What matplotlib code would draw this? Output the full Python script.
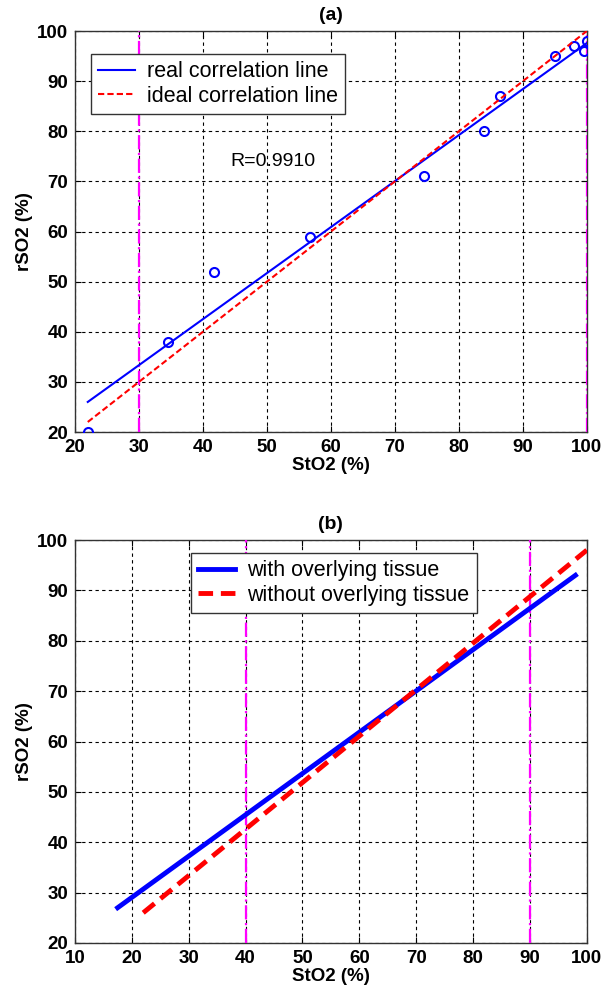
import matplotlib
matplotlib.use('Agg')
import matplotlib.pyplot as plt

plt.rcParams['font.family'] = ['Liberation Sans', 'DejaVu Sans']

# panel (a) measured points
sto2_a = [22, 34.5, 41.7, 56.8, 74.5, 84, 86.5, 95, 98, 99.6, 100]
rso2_a = [20, 38, 52, 59, 71, 80, 87, 95, 97, 96, 98]
real_x = [22, 100]
real_y = [26, 97.6]
ideal_x = [22, 100]
ideal_y = [22, 100]
limits_a = [30, 100]

# panel (b) regression lines
with_x = [17.5, 98]
with_y = [27, 93]
without_x = [22, 100]
without_y = [26, 98]
limits_b = [40, 90]

ticks_a = [20, 30, 40, 50, 60, 70, 80, 90, 100]
ticks_bx = [10, 20, 30, 40, 50, 60, 70, 80, 90, 100]
ticks_y = [20, 30, 40, 50, 60, 70, 80, 90, 100]


def style_axes(ax, xticks, title):
    ax.set_xticks(xticks)
    ax.set_yticks(ticks_y)
    ax.set_xlim(xticks[0], xticks[-1])
    ax.set_ylim(20, 100)
    ax.grid(True, color='black', linestyle=(0, (3, 3)), linewidth=0.8)
    ax.tick_params(direction='in', length=4, width=0.8, top=True, right=True)
    ax.tick_params(axis='x', pad=5)
    ax.tick_params(axis='y', pad=5)
    for lab in ax.get_xticklabels() + ax.get_yticklabels():
        lab.set_fontsize(13.5)
        lab.set_fontweight('bold')
    for sp in ax.spines.values():
        sp.set_linewidth(1.0)
        sp.set_color('#333333')
    ax.set_xlabel('StO2 (%)', fontsize=13.5, fontweight='bold', labelpad=1)
    ax.set_ylabel('rSO2 (%)', fontsize=13.5, fontweight='bold', labelpad=3)
    ax.set_title(title, fontsize=14, fontweight='bold', pad=8)


fig = plt.figure(figsize=(6.13, 9.92), dpi=100)
ax1 = fig.add_axes([0.1223, 0.5645, 0.835, 0.4042])
ax2 = fig.add_axes([0.1223, 0.0494, 0.835, 0.4062])

legend_opts = dict(fontsize=15.5, frameon=True, fancybox=False, edgecolor='#333333',
                   framealpha=1, handlelength=1.7, handletextpad=0.55, borderpad=0.35,
                   labelspacing=0.15, borderaxespad=0)

# (a)
for xv in limits_a:
    ax1.axvline(xv, color='magenta', linestyle='-.', linewidth=1.6, zorder=3)
ax1.plot(sto2_a, rso2_a, 'o', mfc='none', mec='blue', ms=6.5, mew=1.5, zorder=4)
ax1.plot(real_x, real_y, color='blue', linewidth=1.5, label='real correlation line', zorder=5)
ax1.plot(ideal_x, ideal_y, color='red', linestyle='--', linewidth=1.5,
         dashes=(3, 1.5), label='ideal correlation line', zorder=5)
ax1.text(44.3, 74, 'R=0.9910', fontsize=14, ha='left', va='center')
style_axes(ax1, ticks_a, '(a)')
leg1 = ax1.legend(loc='upper left', bbox_to_anchor=(0.031, 0.943), **legend_opts)
leg1.get_frame().set_linewidth(1.0)

# (b)
for xv in limits_b:
    ax2.axvline(xv, color='magenta', linestyle='-.', linewidth=1.6, zorder=3)
ax2.plot(with_x, with_y, color='blue', linewidth=3.5, label='with overlying tissue', zorder=4)
ax2.plot(without_x, without_y, color='red', linestyle='--', linewidth=3.5,
         dashes=(3, 1.6), label='without overlying tissue', zorder=5)
style_axes(ax2, ticks_bx, '(b)')
leg2 = ax2.legend(loc='upper left', bbox_to_anchor=(0.2266, 0.968), **legend_opts)
leg2.get_frame().set_linewidth(1.0)

fig.savefig('out.png', dpi=100)
